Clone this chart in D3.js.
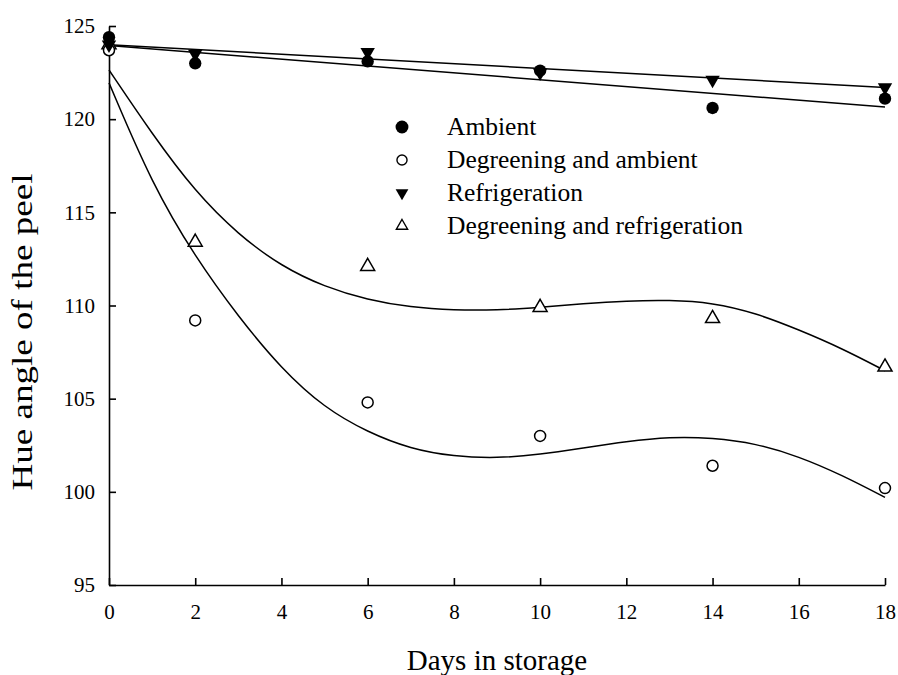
<!DOCTYPE html>
<html lang="en">
<head>
<meta charset="UTF-8">
<title>Hue angle of the peel</title>
<script src="https://cdn.jsdelivr.net/npm/d3@7/dist/d3.min.js"></script>
<style>
body { margin: 0; background: #fff; }
svg { display: block; }
svg text { font-family: "Liberation Serif", "DejaVu Serif", serif; fill: #000; }
.axis path, .axis line { stroke: #000; stroke-width: 1.6px; }
.fit { fill: none; stroke: #000; stroke-width: 1.5px; }
</style>
</head>
<body>
<div id="chart"></div>
<script>
// measured points
var days = [0, 2, 6, 10, 14, 18];
var ambient = [124.4, 123.0, 123.1, 122.6, 120.6, 121.1];
var degreeningAmbient = [123.7, 109.2, 104.8, 103.0, 101.4, 100.2];
var refrigeration = [124.0, 123.5, 123.6, 122.5, 122.1, 121.7];
var degreeningRefrigeration = [124.0, 113.4, 112.1, 109.9, 109.3, 106.7];

// linear fits (end points)
var fitDays = [0, 18];
var fitAmbient = [123.95, 120.65];
var fitRefrigeration = [124.0, 121.7];

// fitted curves
var curveDays = [0, 1, 2, 3, 4, 5, 6, 7, 8, 9, 10, 11, 12, 13, 14, 15, 16, 17, 18];
var curveDegAmbient = [121.95, 116.5, 112.6, 109.4, 106.6, 104.5, 103.2, 102.3, 101.9, 101.8, 102.0, 102.35, 102.7, 102.95, 102.9, 102.6, 101.9, 100.9, 99.7];
var curveDegRefrig = [122.64, 119.2, 116.1, 113.8, 112.1, 111.0, 110.3, 109.9, 109.75, 109.75, 109.9, 110.1, 110.25, 110.3, 110.15, 109.6, 108.7, 107.7, 106.5];

var xTicks = [0, 2, 4, 6, 8, 10, 12, 14, 16, 18];
var yTicks = [95, 100, 105, 110, 115, 120, 125];

var legendLabels = ["Ambient", "Degreening and ambient", "Refrigeration", "Degreening and refrigeration"];

var width = 898, height = 675;
var margin = {top: 26, right: 13, bottom: 90, left: 109};
var innerWidth = width - margin.left - margin.right;
var innerHeight = height - margin.top - margin.bottom;
var serif = "'Liberation Serif', 'DejaVu Serif', serif";

var svg = d3.select("#chart").append("svg")
    .attr("width", width)
    .attr("height", height);

var g = svg.append("g")
    .attr("transform", "translate(" + margin.left + "," + margin.top + ")");

var x = d3.scaleLinear().domain([0, 18]).range([0, innerWidth]);
var y = d3.scaleLinear().domain([95, 125]).range([innerHeight, 0]);

// axes, ticks pointing inward
var xAxis = g.append("g")
    .attr("class", "axis")
    .attr("transform", "translate(0," + innerHeight + ")")
    .call(d3.axisBottom(x).tickValues(xTicks).tickSizeInner(-7).tickSizeOuter(0).tickPadding(19));

var yAxis = g.append("g")
    .attr("class", "axis")
    .call(d3.axisLeft(y).tickValues(yTicks).tickSizeInner(-7).tickSizeOuter(0).tickPadding(14));

xAxis.attr("font-family", serif).attr("font-size", 21);
yAxis.attr("font-family", serif).attr("font-size", 21);
xAxis.selectAll("text").style("font-family", serif).style("font-size", "21px").attr("dy", "0.71em");
yAxis.selectAll("text").style("font-family", serif).style("font-size", "21px");

function series(xs, ys) {
  return xs.map(function(d, i) { return [d, ys[i]]; });
}

var line = d3.line()
    .x(function(d) { return x(d[0]); })
    .y(function(d) { return y(d[1]); });

var smooth = d3.line()
    .curve(d3.curveBasis)
    .x(function(d) { return x(d[0]); })
    .y(function(d) { return y(d[1]); });

g.append("path").attr("class", "fit").attr("d", line(series(fitDays, fitAmbient)));
g.append("path").attr("class", "fit").attr("d", line(series(fitDays, fitRefrigeration)));
g.append("path").attr("class", "fit").attr("d", smooth(series(curveDays, curveDegAmbient)));
g.append("path").attr("class", "fit").attr("d", smooth(series(curveDays, curveDegRefrig)));

// symbol styles for the four series
var styles = [
  {type: d3.symbolCircle, size: 120, rot: 0, fill: "#000", stroke: "none"},
  {type: d3.symbolCircle, size: 95, rot: 0, fill: "#fff", stroke: "#000"},
  {type: d3.symbolTriangle, size: 90, rot: 180, fill: "#000", stroke: "none"},
  {type: d3.symbolTriangle, size: 85, rot: 0, fill: "#fff", stroke: "#000"}
];
var allSeries = [ambient, degreeningAmbient, refrigeration, degreeningRefrigeration];

// open markers first, filled ones on top
[3, 1, 2, 0].forEach(function(k) {
  var st = styles[k];
  g.append("g").selectAll("path")
    .data(series(days, allSeries[k]))
    .enter()
    .append("path")
    .attr("d", d3.symbol().type(st.type).size(st.size))
    .attr("transform", function(d) {
      return "translate(" + x(d[0]) + "," + y(d[1]) + ") rotate(" + st.rot + ")";
    })
    .attr("fill", st.fill)
    .attr("stroke", st.stroke)
    .attr("stroke-width", 1.5);
});

// legend
var legendSizes = [130, 80, 70, 55];
var legend = svg.append("g").attr("transform", "translate(402,126)");
var item = legend.selectAll("g")
    .data(legendLabels)
    .enter()
    .append("g")
    .attr("transform", function(d, i) { return "translate(0," + (i * 33) + ")"; });

item.append("path")
    .attr("d", function(d, i) { return d3.symbol().type(styles[i].type).size(legendSizes[i])(); })
    .attr("transform", function(d, i) { return "translate(0,1) rotate(" + styles[i].rot + ")"; })
    .attr("fill", function(d, i) { return styles[i].fill; })
    .attr("stroke", function(d, i) { return styles[i].stroke; })
    .attr("stroke-width", 1.4);

item.append("text")
    .attr("x", 45)
    .attr("y", 9)
    .style("font-family", serif)
    .style("font-size", "25.5px")
    .text(function(d) { return d; });

// axis titles
svg.append("text")
    .attr("x", margin.left + innerWidth / 2)
    .attr("y", 670)
    .attr("text-anchor", "middle")
    .style("font-family", serif)
    .style("font-size", "29px")
    .text("Days in storage");

svg.append("text")
    .attr("transform", "translate(32,332) rotate(-90)")
    .attr("text-anchor", "middle")
    .attr("textLength", 317)
    .attr("lengthAdjust", "spacingAndGlyphs")
    .style("font-family", serif)
    .style("font-size", "29px")
    .text("Hue angle of the peel");
</script>
</body>
</html>
